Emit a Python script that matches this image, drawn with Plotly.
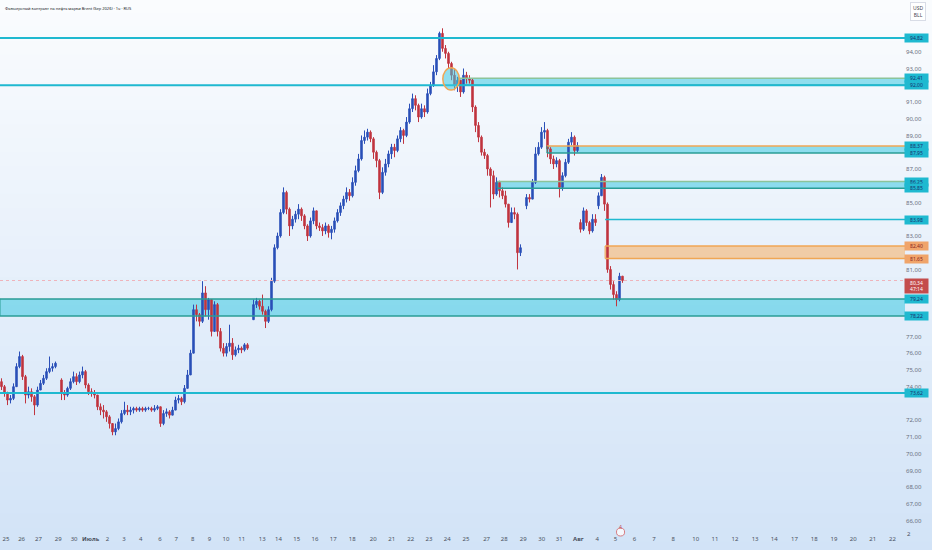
import plotly.graph_objects as go

title = "Фьючерсный контракт на нефть марки Brent (Sep 2026) · 1ч · RUS"

# свечи (по порядку), None = пропуск торгов
close = [
    74.0, 73.6, 73.2, 73.3, 74.0, 75.2, 75.8, 74.6, 73.5, 73.7,
    73.4, 72.9, 73.8, 74.2, 74.5, 74.9, 75.1, 75.2, 75.4, None,
    73.6, 73.5, 73.9, 74.3, 74.6, 74.3, 74.7, 74.9, 74.1, 73.7,
    73.6, 73.5, 72.8, 72.6, 72.5, 72.2, 71.8, 71.3, 71.5, 71.9,
    72.4, 72.6, 72.5, 72.6, 72.7, 72.6, 72.7, 72.6, 72.7, 72.7,
    72.6, 72.7, 72.8, 71.8, 72.4, 72.5, 72.3, 72.6, 73.2, 73.3,
    73.1, 73.9, 74.7, 76.0, 78.6, 78.3, 77.9, 79.6, 78.6, 79.2,
    77.3, 78.9, 77.3, 76.3, 76.0, 76.4, 76.6, 75.9, 76.2, 76.3,
    76.2, 76.5, 76.3, None, 78.9, 79.1, 78.8, 78.5, 77.9, 78.6,
    80.3, 82.3, 83.0, 84.4, 85.6, 84.6, 83.6, 84.0, 84.3, 84.6,
    84.2, 83.6, 83.0, 83.9, 84.5, 83.6, 83.5, 83.3, 83.6, 83.2,
    83.4, 83.9, 84.4, 84.8, 85.2, 85.6, 85.4, 86.2, 86.9, 87.6,
    88.7, 88.9, 89.2, 88.8, 88.0, 87.5, 85.6, 86.8, 87.3, 87.9,
    88.3, 88.1, 88.8, 89.3, 89.0, 89.8, 90.6, 91.2, 90.8, 90.1,
    90.6, 90.4, 91.5, 92.0, 92.8, 93.6, 95.1, 94.2, 93.9, 93.3,
    92.6, 92.0, 92.3, 91.6, 92.6, 92.4, 92.3, 90.7, 89.6, 88.9,
    88.0, 87.8, 87.0, 86.6, 85.5, 86.2, 85.7, 85.4, 84.9, 83.8,
    84.4, 84.3, 82.0, 82.3, None, 85.3, 85.2, 86.2, 87.9, 88.3,
    89.2, 89.3, 88.2, 87.6, 87.3, 87.5, 85.9, 86.6, 87.4, 88.6,
    88.9, 88.1, 88.4, 83.4, 84.5, 83.8, 83.3, 84.0, 83.8, 85.4,
    86.5, 84.9, 81.0, 80.1, 79.5, 79.2, 80.6, 80.34,
]
high = [
    74.5, 74.1, 73.7, 73.5, 74.2, 75.4, 76.1, 75.9, 74.7, 74.0,
    73.9, 73.5, 74.0, 74.4, 74.7, 75.1, 75.8, 75.4, 75.5, None,
    74.5, 73.8, 74.0, 74.5, 74.9, 74.8, 74.9, 75.2, 75.0, 74.2,
    73.9, 73.8, 73.5, 73.0, 72.9, 72.6, 72.3, 71.8, 71.8, 72.1,
    72.6, 73.1, 72.9, 72.8, 72.8, 72.8, 72.8, 72.8, 72.8, 72.8,
    72.8, 72.9, 72.9, 72.8, 72.6, 72.7, 72.6, 72.8, 73.4, 73.5,
    73.4, 74.1, 75.0, 76.2, 78.9, 78.9, 78.4, 80.3, 80.0, 79.3,
    79.1, 79.1, 79.0, 77.5, 76.6, 76.6, 77.7, 76.9, 76.4, 76.5,
    76.4, 76.6, 76.6, None, 79.2, 79.3, 79.2, 79.5, 78.6, 78.8,
    80.5, 82.5, 83.2, 84.6, 85.9, 85.7, 84.7, 84.2, 84.5, 84.9,
    84.7, 84.3, 83.7, 84.1, 84.7, 84.4, 83.8, 83.7, 83.8, 83.7,
    83.6, 84.1, 84.6, 85.0, 85.4, 85.9, 85.8, 86.5, 87.2, 87.9,
    89.0, 89.3, 89.4, 89.3, 88.9, 88.1, 87.6, 87.1, 87.6, 88.1,
    88.5, 88.5, 89.0, 89.5, 89.4, 90.1, 90.9, 91.5, 91.4, 90.9,
    90.9, 90.8, 91.8, 92.2, 93.2, 93.8, 95.2, 95.4, 94.4, 94.0,
    93.4, 93.0, 92.5, 92.3, 93.0, 92.8, 92.6, 92.4, 90.8, 89.8,
    89.0, 88.2, 87.9, 87.1, 86.9, 86.5, 86.3, 85.9, 85.7, 84.9,
    84.7, 84.7, 84.4, 82.5, None, 85.5, 85.5, 86.4, 88.3, 88.6,
    89.5, 89.8, 89.4, 88.3, 87.8, 87.7, 87.6, 86.8, 87.6, 88.8,
    89.2, 89.0, 88.6, 84.0, 84.7, 84.6, 83.9, 84.3, 84.3, 85.6,
    86.7, 86.6, 85.0, 81.2, 80.3, 79.7, 80.8, 80.6,
]
low = [
    73.8, 73.4, 72.9, 73.0, 73.2, 74.0, 75.1, 74.4, 73.0, 73.3,
    73.1, 72.3, 72.8, 73.8, 74.1, 74.4, 74.8, 74.9, 75.1, None,
    73.2, 73.2, 73.4, 73.8, 74.2, 74.1, 74.2, 74.5, 73.9, 73.5,
    73.4, 73.3, 72.6, 72.3, 72.1, 71.9, 71.5, 71.1, 71.1, 71.4,
    71.8, 72.3, 72.3, 72.3, 72.4, 72.5, 72.5, 72.5, 72.5, 72.6,
    72.5, 72.5, 72.6, 71.6, 71.7, 72.2, 72.1, 72.3, 72.9, 73.0,
    72.9, 73.0, 73.9, 74.7, 76.0, 77.9, 77.6, 77.8, 78.2, 78.0,
    77.0, 77.3, 77.0, 76.1, 75.8, 75.8, 76.1, 75.6, 75.8, 76.0,
    76.0, 76.1, 76.2, None, 78.0, 78.7, 78.6, 78.3, 77.5, 77.8,
    78.5, 80.2, 82.2, 82.9, 84.3, 84.3, 83.0, 83.4, 83.8, 84.0,
    83.9, 83.4, 82.7, 82.9, 83.7, 83.4, 83.3, 83.0, 83.1, 82.9,
    82.8, 83.2, 83.8, 84.2, 84.6, 85.0, 85.1, 85.3, 86.0, 86.8,
    87.5, 88.5, 88.7, 88.6, 87.6, 87.1, 85.2, 85.5, 86.6, 87.1,
    87.6, 87.7, 88.0, 88.6, 88.5, 88.9, 89.7, 90.4, 90.5, 89.8,
    90.0, 90.1, 90.3, 91.4, 91.9, 92.6, 93.5, 94.0, 93.6, 93.0,
    92.3, 91.7, 91.6, 91.3, 91.5, 92.1, 92.1, 90.4, 89.2, 88.6,
    87.8, 87.6, 86.6, 84.7, 85.2, 85.4, 85.3, 85.2, 84.7, 83.5,
    83.8, 84.0, 81.0, 81.8, None, 84.6, 85.0, 85.2, 86.1, 87.8,
    88.2, 88.8, 87.7, 87.3, 87.0, 87.1, 85.3, 85.7, 86.5, 87.3,
    88.4, 87.8, 88.0, 83.2, 83.3, 83.6, 83.1, 83.2, 83.6, 84.6,
    85.4, 84.5, 80.8, 79.8, 79.2, 78.8, 79.1, 80.2,
]
first_open = 74.3
# открытие после паузы / гэпа: номер свечи -> цена
session_open = {20: 74.4, 84: 78.0, 175: 84.8, 193: 83.8, 199: 84.8}

# подписи оси времени (позиция в барах)
tick_pos = [1.5, 6.7, 12.3, 18.9, 24.2, 29.7, 35.3, 40.8, 46.4, 52.8, 58.2, 63.7,
            69.3, 74.8, 80.1, 86.9, 92.3, 98.4, 104.5, 110.6, 116.9, 123.9, 130.1,
            136.4, 142.5, 148.6, 154.8, 161.7, 167.6, 173.9, 180.1, 185.9, 192.3,
            198.6, 204.7, 211.0, 217.5, 223.9, 231.4, 237.8, 244.5, 251.2, 257.6,
            264.3, 270.9, 277.5, 283.9, 290.4, 297.0]
tick_text = ["25", "26", "27", "29", "30", "<b>Июль</b>", "2", "3", "4", "6", "7", "8",
             "9", "10", "11", "13", "14", "15", "16", "17", "18", "20", "21",
             "22", "23", "24", "25", "27", "28", "29", "30", "31", "<b>Авг</b>",
             "4", "5", "6", "7", "8", "10", "11", "12", "13", "14",
             "17", "18", "19", "20", "21", "22"]
# видимые подписи цены (остальные закрыты плашками уровней)
price_ticks = [66, 67, 68, 69, 70, 71, 72, 74, 75, 76, 77, 81, 83, 85, 87, 89, 90, 91, 93, 94]

# уровни
full_lines = [94.82, 92.0, 73.62]
ray_level = 83.98
ray_start = 201.2
last_price = 80.34
zone_lo = [92.0, 87.95, 85.85, 81.65, 78.22]
zone_hi = [92.41, 88.37, 86.25, 82.40, 79.24]
zone_start = [152.2, 181.8, 165.2, 201.2, -0.5]
zone_kind = ["cyan", "cyan", "cyan", "orange", "cyan"]
circle_x = [147.1, 152.6]
circle_y = [91.71, 93.04]
label_levels = [94.82, 92.41, 92.0, 88.37, 87.95, 86.25, 85.85, 83.98, 82.40, 81.65, 79.24, 78.22, 73.62]
label_kind = ["cyan", "cyan", "cyan", "cyan", "cyan", "cyan", "cyan", "cyan", "orange", "orange", "cyan", "cyan", "cyan"]

CYAN = "#1fb9d0"
CYAN_FILL = "rgba(60,200,225,0.55)"
TEAL = "#2a9d96"
GREEN = "#8cc49a"
ORANGE = "#f0a654"
ORANGE_FILL = "rgba(245,180,110,0.6)"
top_edge = [GREEN, ORANGE, GREEN, ORANGE, TEAL]
bot_edge = [TEAL, TEAL, TEAL, ORANGE, TEAL]

bars = list(range(len(close)))
opens = []
prev = first_open
for i, c in enumerate(close):
    if c is None:
        opens.append(None)
        continue
    o = session_open.get(i, prev)
    opens.append(o)
    prev = c
hi = [None if c is None else max(h, o, c) for h, o, c in zip(high, opens, close)]
lo = [None if c is None else min(l, o, c) for l, o, c in zip(low, opens, close)]

x_end = 301.17

fig = go.Figure(go.Candlestick(
    x=bars, open=opens, high=hi, low=lo, close=close,
    increasing=dict(line=dict(color="#2a4fb8", width=1), fillcolor="#2a4fb8"),
    decreasing=dict(line=dict(color="#c0343f", width=1), fillcolor="#c0343f"),
    whiskerwidth=0, hoverinfo="skip",
))

shapes = []
# фон-градиент
n = 40
for k in range(n):
    t = k / (n - 1)
    r = round(250 + (210 - 250) * t)
    g = round(252 + (227 - 252) * t)
    b = round(254 + (247 - 254) * t)
    y1 = 1.0 - k * (1.06 / n)
    shapes.append(dict(type="rect", xref="paper", yref="paper", x0=-0.01, x1=1.04,
                       y0=y1 - 1.06 / n - 0.002, y1=y1 + 0.002, line_width=0,
                       fillcolor=f"rgb({r},{g},{b})", layer="below"))

for lo_, hi_, st, kind, te, be in zip(zone_lo, zone_hi, zone_start, zone_kind, top_edge, bot_edge):
    fill = CYAN_FILL if kind == "cyan" else ORANGE_FILL
    shapes.append(dict(type="rect", x0=st, x1=x_end, y0=lo_, y1=hi_, line_width=0,
                       fillcolor=fill, layer="below"))
    shapes.append(dict(type="line", x0=st, x1=x_end, y0=hi_, y1=hi_, line=dict(color=te, width=1.5)))
    shapes.append(dict(type="line", x0=st, x1=x_end, y0=lo_, y1=lo_, line=dict(color=be, width=1.5)))
    shapes.append(dict(type="line", x0=st, x1=st, y0=lo_, y1=hi_, line=dict(color=be, width=1)))

for lv in full_lines:
    shapes.append(dict(type="line", x0=-0.5, x1=x_end, y0=lv, y1=lv, line=dict(color=CYAN, width=2)))
shapes.append(dict(type="line", x0=ray_start, x1=x_end, y0=ray_level, y1=ray_level,
                   line=dict(color=CYAN, width=1.5)))
shapes.append(dict(type="line", x0=-0.5, x1=x_end, y0=last_price, y1=last_price,
                   line=dict(color="#efb3bb", width=1, dash="dot")))
shapes.append(dict(type="circle", x0=circle_x[0], x1=circle_x[1], y0=circle_y[0], y1=circle_y[1],
                   fillcolor=CYAN_FILL, line=dict(color=ORANGE, width=1.5)))
# метка события внизу
shapes.append(dict(type="circle", xref="x", yref="paper", x0=205.0, x1=207.7, y0=-0.021, y1=-0.006,
                   fillcolor="#f4f7fc", line=dict(color="#d77a80", width=1)))

annotations = [
    dict(text=title, xref="paper", yref="paper", x=0.003, y=1, xanchor="left", yanchor="top",
         yshift=-4, showarrow=False, font=dict(size=4, color="#131722")),
    dict(text="USD<br>BLL", xref="paper", yref="paper", x=1.006, y=1, xanchor="left", yanchor="top",
         yshift=-2, showarrow=False, font=dict(size=5, color="#434651"), bordercolor="#d8dce6",
         borderwidth=1, borderpad=2, bgcolor="#ffffff"),
    dict(text="4", xref="x", yref="paper", x=206.35, y=-0.0135, showarrow=False,
         font=dict(size=5, color="#c04a55")),
    dict(text="2", xref="paper", yref="paper", x=913 / 905, y=-0.0286, showarrow=False,
         font=dict(size=6, color="#4a5160")),
]
for lv, kind in zip(label_levels, label_kind):
    bg = CYAN if kind == "cyan" else "#f0a46a"
    fg = "#17306e" if kind == "cyan" else "#8a1f1f"
    annotations.append(dict(text=f"{lv:.2f}".replace(".", ","), xref="paper", yref="y", x=0.999, y=lv,
                            xanchor="left", showarrow=False, bgcolor=bg, borderpad=0.5,
                            width=22, height=7, font=dict(size=5, color=fg)))
annotations.append(dict(text=f"{last_price:.2f}".replace(".", ",") + "<br>47:14", xref="paper", yref="y",
                        x=0.999, y=last_price, yanchor="top", yshift=3, xanchor="left", showarrow=False,
                        bgcolor="#c44c4c", borderpad=0.5, width=22, font=dict(size=5, color="#ffffff")))

fig.update_layout(
    width=932, height=550,
    margin=dict(l=0, r=27, t=0, b=25),
    paper_bgcolor="#e6eef9",
    plot_bgcolor="rgba(0,0,0,0)",
    separators=", ",
    font=dict(family="Noto Sans", size=6, color="#4a5160"),
    showlegend=False,
    shapes=shapes,
    annotations=annotations,
    xaxis=dict(range=[-0.5, x_end], rangeslider=dict(visible=False), showgrid=False, zeroline=False,
               tickvals=tick_pos, ticktext=tick_text, ticks="", ticklabelstandoff=9,
               tickfont=dict(size=6, color="#4a5160"), showline=False),
    yaxis=dict(range=[65.74, 97.09], side="right", tickvals=price_ticks, tickformat=".2f",
               showgrid=False, zeroline=False, ticks="", tickfont=dict(size=6, color="#6a7080"),
               showline=False),
)

fig.write_html("out.html", config={"displayModeBar": False},
               post_script="document.body.style.margin='0';document.body.style.overflow='hidden';")
